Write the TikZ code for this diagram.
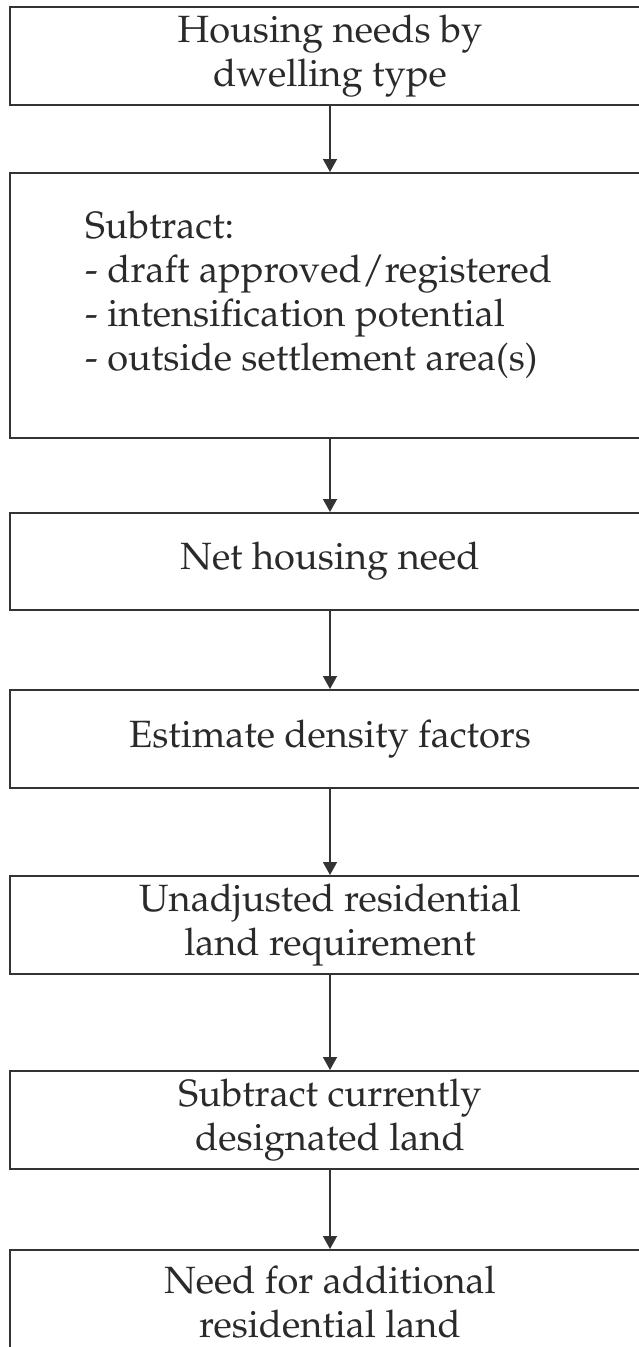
\documentclass[tikz,border=0pt]{standalone}
\usepackage[T1]{fontenc}
\usetikzlibrary{arrows.meta}
\definecolor{linecol}{HTML}{333333}
\definecolor{txtcol}{HTML}{2A2A2A}
\tikzset{
  box/.style={draw=linecol, line width=1.5pt, minimum width=640pt, anchor=north, inner sep=0pt,
    text=txtcol, align=center, font=\fontfamily{ppl}\fontsize{38}{44}\selectfont},
  lbl/.style={text=txtcol, align=left, inner sep=0pt, font=\fontfamily{ppl}\fontsize{38}{44}\selectfont},
  conn/.style={draw=linecol, line width=1.6pt, -{Triangle[width=14pt,length=13pt]}},
}
\begin{document}
\begin{tikzpicture}[x=1pt,y=1pt]
\useasboundingbox (0,0) rectangle (639,-1347);
\node[box, minimum height=98pt] (b1) at (330,-6) {Housing needs by\\dwelling type};
\node[box, minimum height=265pt] (b2) at (330,-172) {};
\node[lbl, anchor=north west] (t2) at (85,-211) {Subtract:\\- draft approved/registered\\- intensification potential\\- outside settlement area(s)};
\node[box, minimum height=97pt] (b3) at (330,-512) {Net housing need};
\node[box, minimum height=98pt] (b4) at (330,-689) {Estimate density factors};
\node[box, minimum height=98pt] (b5) at (330,-875) {Unadjusted residential\\land requirement};
\node[box, minimum height=98pt] (b6) at (330,-1070) {Subtract currently\\designated land};
\node[box, minimum height=104pt] (b7) at (330,-1249) {Need for additional\\residential land};
\draw[conn] (b1.south) -- (b2.north);
\draw[conn] (b2.south) -- (b3.north);
\draw[conn] (b3.south) -- (b4.north);
\draw[conn] (b4.south) -- (b5.north);
\draw[conn] (b5.south) -- (b6.north);
\draw[conn] (b6.south) -- (b7.north);
\end{tikzpicture}
\end{document}
